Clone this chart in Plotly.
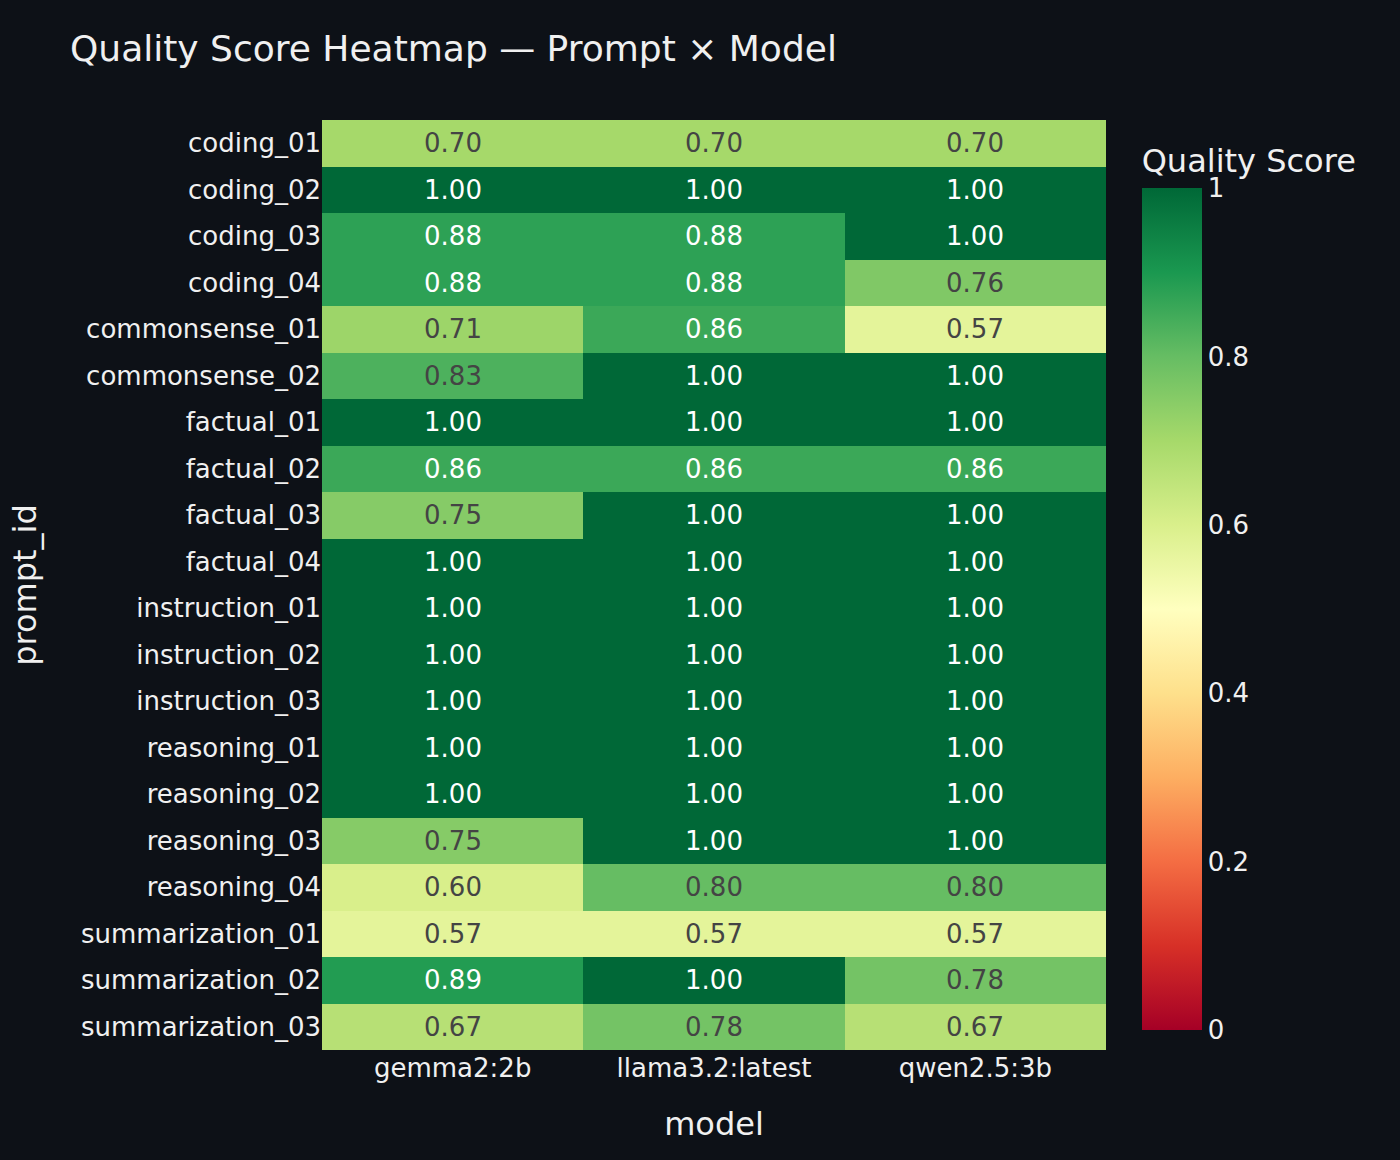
import plotly.graph_objects as go

prompts = ["coding_01", "coding_02", "coding_03", "coding_04", "commonsense_01", "commonsense_02",
           "factual_01", "factual_02", "factual_03", "factual_04", "instruction_01", "instruction_02",
           "instruction_03", "reasoning_01", "reasoning_02", "reasoning_03", "reasoning_04",
           "summarization_01", "summarization_02", "summarization_03"]
models = ["gemma2:2b", "llama3.2:latest", "qwen2.5:3b"]

gemma = [0.70, 1.00, 0.875, 0.875, 0.714, 0.833, 1.00, 0.857, 0.75, 1.00, 1.00, 1.00, 1.00, 1.00, 1.00, 0.75, 0.60, 0.571, 0.889, 0.667]
llama = [0.70, 1.00, 0.875, 0.875, 0.857, 1.00, 1.00, 0.857, 1.00, 1.00, 1.00, 1.00, 1.00, 1.00, 1.00, 1.00, 0.80, 0.571, 1.00, 0.778]
qwen = [0.70, 1.00, 1.00, 0.76, 0.571, 1.00, 1.00, 0.857, 1.00, 1.00, 1.00, 1.00, 1.00, 1.00, 1.00, 1.00, 0.80, 0.571, 0.778, 0.667]

z = [[g, l, q] for g, l, q in zip(gemma, llama, qwen)]

fig = go.Figure(go.Heatmap(
    z=z, x=models, y=prompts,
    colorscale="RdYlGn", zmin=0, zmax=1,
    texttemplate="%{z:.2f}", textfont=dict(size=26),
    colorbar=dict(title=dict(text="Quality Score", side="top", font=dict(size=32)),
                  thickness=60, tickfont=dict(size=26), outlinewidth=0,
                  x=1.02, xpad=20, ypad=20, y=0, yanchor="bottom", len=0.9946),
))

fig.update_layout(
    width=1400, height=1160,
    paper_bgcolor="#0d1117", plot_bgcolor="#0d1117",
    font=dict(family="DejaVu Sans", color="#f0f0f0", size=26),
    title=dict(text="Quality Score Heatmap — Prompt × Model", x=0.05, y=1 - 48 / 1160,
               yanchor="middle", font=dict(size=36)),
    margin=dict(l=322, r=294, t=120, b=110),
    xaxis=dict(title=dict(text="model", font=dict(size=32), standoff=30), showgrid=False, zeroline=False),
    yaxis=dict(title=dict(text="prompt_id", font=dict(size=32), standoff=34), autorange="reversed",
               showgrid=False, zeroline=False),
)

fig.write_html("out.html", config={"displayModeBar": False},
               post_script="document.body.style.margin='0';document.body.style.background='#0d1117';")
